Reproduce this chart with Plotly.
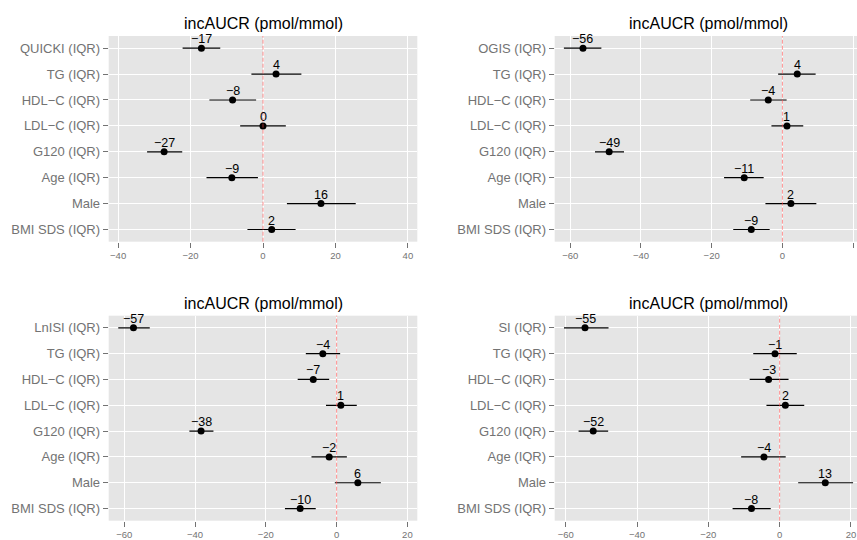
import plotly.graph_objects as go

# ---------------- data ----------------
common_rows = ["TG (IQR)", "HDL\u2212C (IQR)", "LDL\u2212C (IQR)", "G120 (IQR)",
               "Age (IQR)", "Male", "BMI SDS (IQR)"]

p1_rows = ["QUICKI (IQR)"] + common_rows
p1_est = [-17.0, 3.6, -8.4, 0.0, -27.3, -8.6, 16.0, 2.4]
p1_low = [-22.2, -3.2, -14.8, -6.3, -32.0, -15.6, 6.6, -4.3]
p1_high = [-11.8, 10.6, -1.9, 6.3, -22.3, -1.4, 25.6, 9.0]
p1_lab = ["\u221217", "4", "\u22128", "0", "\u221227", "\u22129", "16", "2"]

p2_rows = ["OGIS (IQR)"] + common_rows
p2_est = [-56.4, 4.2, -4.0, 1.3, -49.0, -10.8, 2.4, -8.8]
p2_low = [-61.8, -1.2, -9.1, -3.1, -53.0, -16.5, -4.8, -13.9]
p2_high = [-51.2, 9.4, 1.2, 5.9, -44.8, -5.3, 9.6, -3.6]
p2_lab = ["\u221256", "4", "\u22124", "1", "\u221249", "\u221211", "2", "\u22129"]

p3_rows = ["LnISI (IQR)"] + common_rows
p3_est = [-57.4, -3.9, -6.6, 1.2, -38.3, -2.1, 6.0, -10.3]
p3_low = [-61.7, -8.7, -11.0, -3.0, -41.6, -7.1, -0.5, -14.6]
p3_high = [-52.8, 1.0, -2.1, 5.7, -34.8, 2.9, 12.5, -5.9]
p3_lab = ["\u221257", "\u22124", "\u22127", "1", "\u221238", "\u22122", "6", "\u221210"]

p4_rows = ["SI (IQR)"] + common_rows
p4_est = [-54.6, -1.3, -3.1, 1.6, -52.3, -4.4, 12.8, -7.9]
p4_low = [-60.5, -7.4, -8.4, -3.7, -56.4, -10.8, 5.2, -13.2]
p4_high = [-48.0, 4.8, 2.5, 6.9, -48.1, 1.7, 20.6, -2.5]
p4_lab = ["\u221255", "\u22121", "\u22123", "2", "\u221252", "\u22124", "13", "\u22128"]

title_text = "incAUCR (pmol/mmol)"
ref_value = 0

panels = [
    (p1_rows, p1_est, p1_low, p1_high, p1_lab),
    (p2_rows, p2_est, p2_low, p2_high, p2_lab),
    (p3_rows, p3_est, p3_low, p3_high, p3_lab),
    (p4_rows, p4_est, p4_low, p4_high, p4_lab),
]

# ---------------- layout geometry ----------------
W, H = 857, 540
x_domains = [[108.7 / W, 417.3 / W], [554.7 / W, 1.0],
             [108.7 / W, 417.3 / W], [554.7 / W, 1.0]]
y_domains = [[1 - 241.7 / H, 1 - 36 / H], [1 - 241.7 / H, 1 - 36 / H],
             [1 - 520.7 / H, 1 - 315.7 / H], [1 - 520.7 / H, 1 - 315.7 / H]]
x_ranges = [[-42.6, 42.6], [-64.4, 21.1], [-64.4, 22.8], [-63.1, 21.7]]
title_pos = [(263 / W, 1 - 23.3 / H), (708 / W, 1 - 23.3 / H),
             (263 / W, 1 - 303.3 / H), (708 / W, 1 - 303.3 / H)]

FONT = "Liberation Sans, Arial, Helvetica, sans-serif"
AX_GREY = "#737373"

fig = go.Figure()
layout = dict(
    width=W, height=H,
    margin=dict(l=0, r=0, t=0, b=0),
    paper_bgcolor="white",
    plot_bgcolor="#E5E5E5",
    showlegend=False,
    font=dict(family=FONT),
    shapes=[], annotations=[],
)

for i, (rows, est, low, high, lab) in enumerate(panels):
    n = len(rows)
    ypos = [n - k for k in range(n)]
    xa = "x" if i == 0 else f"x{i+1}"
    ya = "y" if i == 0 else f"y{i+1}"
    xkey = "xaxis" if i == 0 else f"xaxis{i+1}"
    ykey = "yaxis" if i == 0 else f"yaxis{i+1}"

    # error bars + points
    fig.add_trace(go.Scatter(
        x=est, y=ypos, xaxis=xa, yaxis=ya,
        mode="markers",
        marker=dict(color="black", size=7),
        error_x=dict(type="data", symmetric=False,
                     array=[h - e for h, e in zip(high, est)],
                     arrayminus=[e - l for e, l in zip(est, low)],
                     color="black", thickness=1.2, width=0),
        cliponaxis=False,
        hoverinfo="skip",
    ))
    # value labels above each point
    for xv, yv, t in zip(est, ypos, lab):
        layout["annotations"].append(dict(
            text=t, xref=xa, yref=ya, x=xv, y=yv,
            xanchor="center", yanchor="bottom", yshift=1,
            showarrow=False, borderpad=0,
            font=dict(size=12.5, color="black", family=FONT),
        ))

    layout[xkey] = dict(
        domain=x_domains[i], range=x_ranges[i], anchor=ya,
        dtick=20, tick0=0, showgrid=True, gridcolor="white", gridwidth=1,
        zeroline=False, ticks="outside", ticklen=5, tickcolor=AX_GREY,
        tickwidth=1, tickfont=dict(size=9.5, color=AX_GREY, family=FONT),
        showline=False, fixedrange=True,
    )
    layout[ykey] = dict(
        domain=y_domains[i], range=[0.53, n + 0.47], anchor=xa,
        tickmode="array", tickvals=ypos, ticktext=rows,
        showgrid=True, gridcolor="white", gridwidth=1, zeroline=False,
        ticks="outside", ticklen=5, tickcolor=AX_GREY, tickwidth=1,
        tickfont=dict(size=13, color=AX_GREY, family=FONT),
        showline=False, fixedrange=True,
    )
    layout["shapes"].append(dict(
        type="line", xref=xa, yref=f"{ya} domain",
        x0=ref_value, x1=ref_value, y0=0, y1=1,
        line=dict(color="rgba(255,70,70,0.6)", width=1, dash="4px,2px"),
        layer="above",
    ))
    tx, ty = title_pos[i]
    layout["annotations"].append(dict(
        text=title_text, xref="paper", yref="paper", x=tx, y=ty,
        xanchor="center", yanchor="middle", showarrow=False,
        font=dict(size=16, color="black", family=FONT),
    ))

fig.update_layout(**layout)
fig.write_html("out.html",
               config={"displayModeBar": False},
               post_script="document.body.style.margin='0';document.body.style.padding='0';")
